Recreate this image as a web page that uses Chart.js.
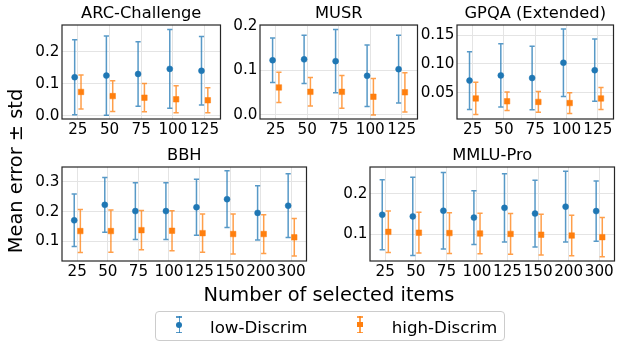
<!DOCTYPE html>
<html>
<head>
<meta charset="utf-8">
<script src="https://cdn.jsdelivr.net/npm/chart.js@4.4.0/dist/chart.umd.min.js"></script>
<style>
  body { margin: 0; width: 618px; height: 344px; overflow: hidden; background: #fff; position: relative; font-family: "DejaVu Sans", sans-serif; color: #000; }
  .panel { position: absolute; }
  #ylabel { position: absolute; left: -84.2px; top: 160.5px; width: 200px; height: 20px; line-height: 20px; font-size: 19.4px; text-align: center; transform: rotate(-90deg); white-space: nowrap; }
  #xlabel { position: absolute; left: 129px; top: 285.3px; width: 400px; line-height: 1; font-size: 19.4px; text-align: center; white-space: nowrap; }
  #legend { position: absolute; left: 155px; top: 311px; width: 350px; height: 30px; box-sizing: border-box; border: 1px solid #cccccc; border-radius: 4px; }
  .lab { position: absolute; top: 318.6px; font-size: 16.7px; line-height: 1; white-space: nowrap; }
  .icon { position: absolute; top: 316px; width: 6px; height: 17px; }
  .icon .bar { position: absolute; left: 2.25px; top: 0; width: 1.5px; height: 17px; }
  .icon .cap { position: absolute; left: 0; width: 6px; height: 1.5px; }
  .icon .mk { position: absolute; }
</style>
</head>
<body>
<div class="panel" id="p-arc"><canvas id="c-arc"></canvas></div>
<div class="panel" id="p-musr"><canvas id="c-musr"></canvas></div>
<div class="panel" id="p-gpqa"><canvas id="c-gpqa"></canvas></div>
<div class="panel" id="p-bbh"><canvas id="c-bbh"></canvas></div>
<div class="panel" id="p-mmlu"><canvas id="c-mmlu"></canvas></div>

<div id="ylabel">Mean error ± std</div>
<div id="xlabel">Number of selected items</div>

<div id="legend"></div>
<div class="icon" style="left:176.3px">
  <div class="bar" style="background:rgba(31,119,180,0.75)"></div>
  <div class="cap" style="top:0;background:rgba(31,119,180,0.75)"></div>
  <div class="cap" style="bottom:0;background:rgba(31,119,180,0.75)"></div>
  <div class="mk" style="left:0;top:5.5px;width:6px;height:6px;border-radius:50%;background:#1f77b4"></div>
</div>
<div class="lab" style="left:210px">low-Discrim</div>
<div class="icon" style="left:357px">
  <div class="bar" style="background:rgba(255,127,14,0.75)"></div>
  <div class="cap" style="top:0;background:rgba(255,127,14,0.75)"></div>
  <div class="cap" style="bottom:0;background:rgba(255,127,14,0.75)"></div>
  <div class="mk" style="left:0.25px;top:5.75px;width:5.5px;height:5.5px;background:#ff7f0e"></div>
</div>
<div class="lab" style="left:391.7px">high-Discrim</div>

<script>
// categorias del eje x
const smallSizes = ['25', '50', '75', '100', '125'];
const largeSizes = ['25', '50', '75', '100', '125', '150', '200', '300'];

// ARC-Challenge
const arcLowMean = [0.121, 0.126, 0.131, 0.147, 0.141];
const arcLowStd = [0.117, 0.124, 0.101, 0.123, 0.107];
const arcHighMean = [0.075, 0.062, 0.057, 0.052, 0.049];
const arcHighStd = [0.053, 0.048, 0.044, 0.042, 0.039];

// MUSR
const musrLowMean = [0.123, 0.125, 0.121, 0.088, 0.103];
const musrLowStd = [0.050, 0.054, 0.071, 0.069, 0.076];
const musrHighMean = [0.062, 0.052, 0.052, 0.041, 0.051];
const musrHighStd = [0.034, 0.032, 0.037, 0.041, 0.044];

// GPQA (Extended)
const gpqaLowMean = [0.071, 0.080, 0.0755, 0.102, 0.089];
const gpqaLowStd = [0.050, 0.055, 0.055, 0.0585, 0.054];
const gpqaHighMean = [0.040, 0.035, 0.034, 0.032, 0.040];
const gpqaHighStd = [0.028, 0.016, 0.018, 0.018, 0.019];

// BBH
const bbhLowMean = [0.171, 0.223, 0.202, 0.202, 0.215, 0.242, 0.196, 0.220];
const bbhLowStd = [0.088, 0.092, 0.095, 0.095, 0.094, 0.095, 0.091, 0.107];
const bbhHighMean = [0.135, 0.135, 0.138, 0.136, 0.128, 0.125, 0.125, 0.114];
const bbhHighStd = [0.072, 0.071, 0.066, 0.067, 0.064, 0.067, 0.065, 0.063];

// MMLU-Pro
const mmluLowMean = [0.148, 0.144, 0.158, 0.141, 0.165, 0.151, 0.168, 0.157];
const mmluLowStd = [0.086, 0.096, 0.094, 0.066, 0.084, 0.082, 0.087, 0.074];
const mmluHighMean = [0.106, 0.104, 0.103, 0.102, 0.101, 0.099, 0.097, 0.093];
const mmluHighStd = [0.051, 0.050, 0.050, 0.050, 0.050, 0.050, 0.050, 0.048];

// ticks del eje y
const arcYTicks = [0.0, 0.1, 0.2];
const arcYLabels = ['0.0', '0.1', '0.2'];
const musrYTicks = [0.0, 0.1, 0.2];
const musrYLabels = ['0.0', '0.1', '0.2'];
const gpqaYTicks = [0.05, 0.10, 0.15];
const gpqaYLabels = ['0.05', '0.10', '0.15'];
const bbhYTicks = [0.1, 0.2, 0.3];
const bbhYLabels = ['0.1', '0.2', '0.3'];
const mmluYTicks = [0.1, 0.2];
const mmluYLabels = ['0.1', '0.2'];

const BLUE = '#1f77b4';
const ORANGE = '#ff7f0e';
const BLUE_ERR = 'rgba(31,119,180,0.75)';
const ORANGE_ERR = 'rgba(255,127,14,0.75)';
const GRID = '#e4e4e4';
const Y_W = 45;      // ancho del eje y
const TITLE_H = 25;  // alto del titulo
const X_H = 30;      // alto del eje x
const RIGHT_PAD = 4;
const CAP = 2.6;

Chart.defaults.font.family = '"DejaVu Sans", sans-serif';

const panels = [
  { id: 'arc', title: 'ARC-Challenge', labels: smallSizes, lowMean: arcLowMean, lowStd: arcLowStd,
    highMean: arcHighMean, highStd: arcHighStd, yTicks: arcYTicks, yLabels: arcYLabels,
    yMin: -0.0095, yMax: 0.284, left: 62, top: 25, w: 159, h: 94 },
  { id: 'musr', title: 'MUSR', labels: smallSizes, lowMean: musrLowMean, lowStd: musrLowStd,
    highMean: musrHighMean, highStd: musrHighStd, yTicks: musrYTicks, yLabels: musrYLabels,
    yMin: -0.009, yMax: 0.2022, left: 260, top: 25, w: 158, h: 94 },
  { id: 'gpqa', title: 'GPQA (Extended)', labels: smallSizes, lowMean: gpqaLowMean, lowStd: gpqaLowStd,
    highMean: gpqaHighMean, highStd: gpqaHighStd, yTicks: gpqaYTicks, yLabels: gpqaYLabels,
    yMin: 0.0043, yMax: 0.1675, left: 457, top: 25, w: 157, h: 94 },
  { id: 'bbh', title: 'BBH', labels: largeSizes, lowMean: bbhLowMean, lowStd: bbhLowStd,
    highMean: bbhHighMean, highStd: bbhHighStd, yTicks: bbhYTicks, yLabels: bbhYLabels,
    yMin: 0.0345, yMax: 0.350, left: 62, top: 167, w: 245, h: 94 },
  { id: 'mmlu', title: 'MMLU-Pro', labels: largeSizes, lowMean: mmluLowMean, lowStd: mmluLowStd,
    highMean: mmluHighMean, highStd: mmluHighStd, yTicks: mmluYTicks, yLabels: mmluYLabels,
    yMin: 0.0344, yMax: 0.2654, left: 370, top: 167, w: 245, h: 94 }
];

// barras de error dibujadas con las escalas del grafico
const errorBars = {
  id: 'errorBars',
  beforeDatasetsDraw(chart) {
    const ctx = chart.ctx;
    const xs = chart.scales.x;
    const ys = chart.scales.y;
    chart.data.datasets.forEach(ds => {
      ctx.save();
      ctx.strokeStyle = ds.errColor;
      ctx.lineWidth = 1.5;
      ds.data.forEach((pt, i) => {
        const x = xs.getPixelForValue(pt.x);
        const yTop = ys.getPixelForValue(pt.y + ds.err[i]);
        const yBot = ys.getPixelForValue(pt.y - ds.err[i]);
        ctx.beginPath();
        ctx.moveTo(x, yTop); ctx.lineTo(x, yBot);
        ctx.moveTo(x - CAP, yTop); ctx.lineTo(x + CAP, yTop);
        ctx.moveTo(x - CAP, yBot); ctx.lineTo(x + CAP, yBot);
        ctx.stroke();
      });
      ctx.restore();
    });
  }
};

// marco completo alrededor del area
const frame = {
  id: 'frame',
  afterDraw(chart) {
    const a = chart.chartArea;
    const ctx = chart.ctx;
    ctx.save();
    ctx.strokeStyle = '#262626';
    ctx.lineWidth = 1.2;
    ctx.strokeRect(a.left, a.top, a.right - a.left, a.bottom - a.top);
    ctx.restore();
  }
};

panels.forEach(p => {
  const div = document.getElementById('p-' + p.id);
  const canvas = document.getElementById('c-' + p.id);
  const cw = Y_W + p.w + RIGHT_PAD;
  const chh = TITLE_H + p.h + X_H;
  div.style.left = (p.left - Y_W) + 'px';
  div.style.top = (p.top - TITLE_H) + 'px';
  canvas.width = cw;
  canvas.height = chh;
  canvas.style.width = cw + 'px';
  canvas.style.height = chh + 'px';

  const lowData = p.lowMean.map((v, i) => ({ x: i - 0.1, y: v }));
  const highData = p.highMean.map((v, i) => ({ x: i + 0.1, y: v }));

  new Chart(canvas, {
    type: 'scatter',
    data: {
      datasets: [
        {
          label: 'low-Discrim',
          data: lowData,
          err: p.lowStd,
          errColor: BLUE_ERR,
          pointStyle: 'circle',
          pointRadius: 3,
          backgroundColor: BLUE,
          borderColor: BLUE,
          borderWidth: 0.5
        },
        {
          label: 'high-Discrim',
          data: highData,
          err: p.highStd,
          errColor: ORANGE_ERR,
          pointStyle: 'rect',
          pointRadius: 3.9,
          backgroundColor: ORANGE,
          borderColor: ORANGE,
          borderWidth: 0.5
        }
      ]
    },
    options: {
      responsive: false,
      animation: false,
      events: [],
      layout: { padding: { left: 0, right: RIGHT_PAD, top: 0, bottom: 0 } },
      plugins: {
        legend: { display: false },
        tooltip: { enabled: false },
        title: {
          display: true,
          fullSize: false,
          text: p.title,
          color: '#000',
          font: { size: 16.3, weight: 'normal', lineHeight: 1.2 },
          padding: { top: TITLE_H - 1 - 16.3 * 1.2, bottom: 1 }
        }
      },
      scales: {
        x: {
          type: 'linear',
          bounds: 'data',
          min: -0.5,
          max: p.labels.length - 0.5,
          afterBuildTicks: s => { s.ticks = p.labels.map((_, i) => ({ value: i })); },
          afterFit: s => { s.height = X_H; s.paddingLeft = 0; s.paddingRight = 0; },
          ticks: {
            callback: (v, i) => p.labels[i],
            autoSkip: false,
            maxRotation: 0,
            minRotation: 0,
            padding: 2,
            color: '#000',
            font: { size: 15.2 }
          },
          grid: { color: GRID, drawTicks: false },
          border: { display: false }
        },
        y: {
          bounds: 'data',
          min: p.yMin,
          max: p.yMax,
          afterBuildTicks: s => { s.ticks = p.yTicks.map(v => ({ value: v })); },
          afterFit: s => { s.width = Y_W; s.paddingTop = 0; s.paddingBottom = 0; },
          ticks: {
            callback: (v, i) => p.yLabels[i],
            padding: 2.5,
            color: '#000',
            font: { size: 15.2 }
          },
          grid: { color: GRID, drawTicks: false },
          border: { display: false }
        }
      }
    },
    plugins: [errorBars, frame]
  });
});
</script>
</body>
</html>
